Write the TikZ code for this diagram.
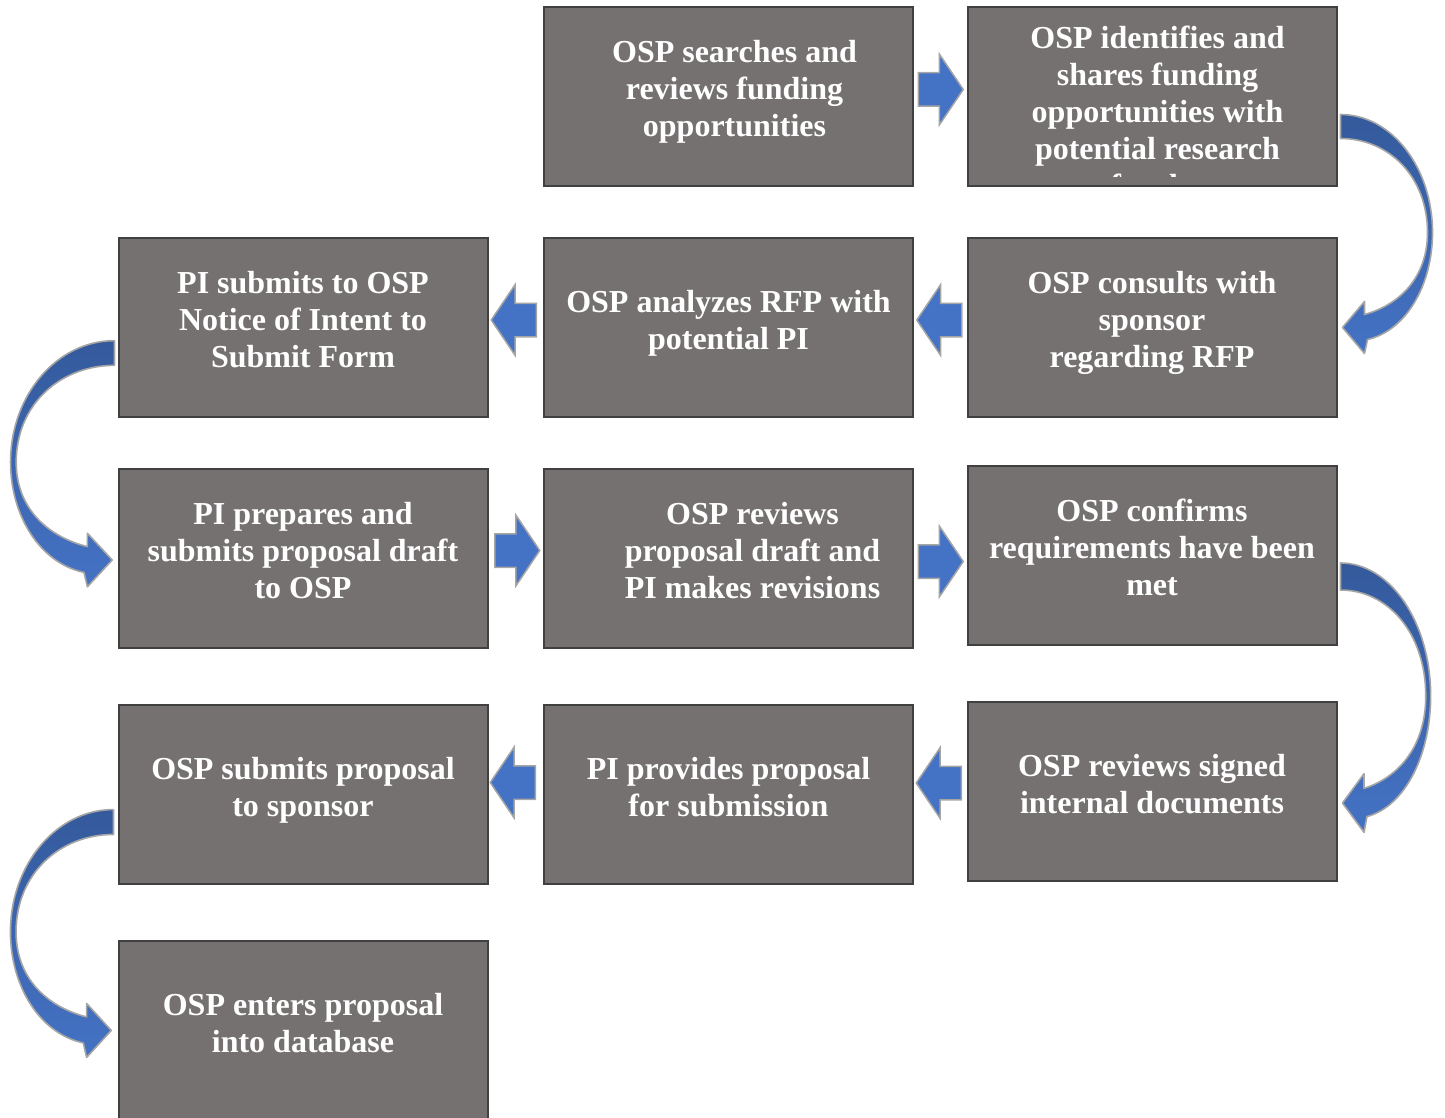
\documentclass[tikz,border=0pt]{standalone}
\usepackage{fontspec}
\setmainfont{Liberation Serif}
\usetikzlibrary{shapes.arrows,calc}

\definecolor{boxgray}{HTML}{767171}
\definecolor{boxline}{HTML}{404040}
\definecolor{arrowblue}{HTML}{4472C4}
\definecolor{arrowdark}{RGB}{52,90,156}
\definecolor{arrowrim}{HTML}{A5A5A5}

\tikzset{
  pics/bentarrow/.style={code={
    \path[top color=arrowdark, bottom color=arrowblue, draw=arrowrim, line width=0.8pt, line join=round]
      (0,-12) .. controls (51,-12) and (92,41) .. (92,106)
      .. controls (92,158) and (66,204) .. (27,213)
      -- (24,227) -- (2,201) -- (24,175) -- (24,188)
      .. controls (60,178) and (87,150) .. (87,106)
      .. controls (87,50) and (48,12) .. (0,12) -- cycle;
  }}
}

\begin{document}
\begin{tikzpicture}[
x=0.5pt, y=-0.5pt,
steplabel/.style={text=white, inner sep=0pt, align=center,
  font=\fontsize{16pt}{18.5pt}\selectfont\bfseries,
  execute at begin node={\rule{0pt}{13pt}},
  execute at end node={\rule[-8pt]{0pt}{8pt}}},
stepbox/.style={steplabel, rectangle, draw=boxline, line width=1pt, fill=boxgray,
  minimum width=184.5pt, minimum height=89.5pt},
flow/.style={single arrow, draw=arrowrim, fill=arrowblue, line width=0.75pt,
  inner xsep=0pt, inner ysep=8pt, minimum height=22.5pt, minimum width=34.5pt,
  single arrow head extend=9.25pt, single arrow tip angle=112,
  single arrow head indent=0pt, anchor=tail},
flowleft/.style={flow, shape border rotate=180} ]

\useasboundingbox (0,0) rectangle (1445,1118);

% row 1
\node[stepbox] (search) at (728.5,96.5) {\hspace*{6pt}OSP searches and\\\hspace*{6pt}reviews funding\\\hspace*{6pt}opportunities};

\node[stepbox] (ident) at (1152,96.5) {};
\begin{scope}
\clip (ident.north west) rectangle ($(ident.south east)+(0,-10)$);
\node[steplabel] (identtext) at (1157.5,119) {OSP identifies and\\shares funding\\opportunities with\\potential research\\faculty};
\end{scope}

% row 2
\node[stepbox] (consult) at (1152,327.5) {OSP consults with\\sponsor\\regarding RFP};

\node[stepbox] (analyze) at (728.5,327.5) {OSP analyzes RFP with\\potential PI};

\node[stepbox] (notice) at (303,327.5) {PI submits to OSP\\Notice of Intent to\\Submit Form};

% row 3
\node[stepbox] (prepare) at (303,558.5) {PI prepares and\\submits proposal draft\\to OSP};

\node[stepbox] (review) at (728.5,558.5) {\hspace*{24pt}OSP reviews\\\hspace*{24pt}proposal draft and\\\hspace*{24pt}PI makes revisions};

\node[stepbox] (confirm) at (1152,555) {OSP confirms\\requirements have been\\met};

% row 4
\node[stepbox] (signed) at (1152,791.5) {OSP reviews signed\\internal documents};

\node[stepbox] (provide) at (728.5,794.5) {PI provides proposal\\for submission};

\node[stepbox] (submit) at (303,794.5) {OSP submits proposal\\to sponsor};

% row 5
\node[stepbox] (enter) at (303,1030.5) {OSP enters proposal\\into database};

% straight arrows
\node[flow] (go1) at ($(search.east)+(3.5,-7)$) {};
\node[flowleft] (go2) at ($(consult.west)+(-4,-7.5)$) {};
\node[flowleft] (go3) at ($(analyze.west)+(-6,-7.5)$) {};
\node[flow] (go4) at ($(prepare.east)+(5.5,-8)$) {};
\node[flow] (go5) at ($(review.east)+(3.5,3)$) {};
\node[flowleft] (go6) at ($(signed.west)+(-4.5,-8.5)$) {};
\node[flowleft] (go7) at ($(provide.west)+(-7,-12)$) {};

% bent arrows
\pic at ($(ident.east)+(3,30)$) {bentarrow};
\pic[xscale=0.98, yscale=1.127] at ($(confirm.east)+(3,21.5)$) {bentarrow};
\pic[xscale=-1.13, yscale=1.03] at ($(notice.west)+(-3,25.5)$) {bentarrow};
\pic[xscale=-1.12, yscale=1.037] at ($(submit.west)+(-4,27.5)$) {bentarrow};

\end{tikzpicture}
\end{document}
